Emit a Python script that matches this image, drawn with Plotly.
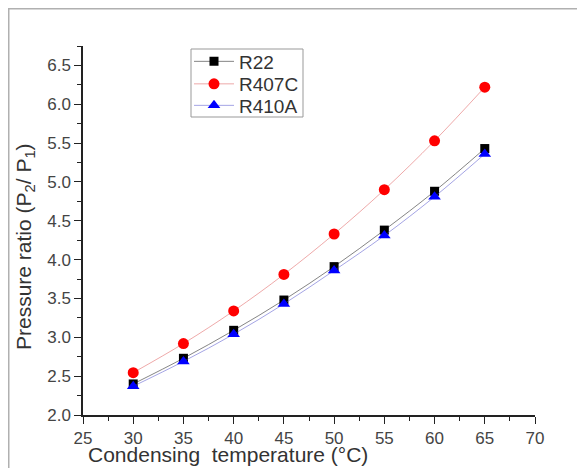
import plotly.graph_objects as go

temps = [30, 35, 40, 45, 50, 55, 60, 65]
r22 = [2.40, 2.73, 3.09, 3.48, 3.91, 4.38, 4.88, 5.43]
r407c = [2.545, 2.92, 3.34, 3.81, 4.33, 4.90, 5.53, 6.22]
r410a = [2.37, 2.69, 3.04, 3.43, 3.86, 4.31, 4.81, 5.36]

x_ticks = [25, 30, 35, 40, 45, 50, 55, 60, 65, 70]
y_ticks = [2.0, 2.5, 3.0, 3.5, 4.0, 4.5, 5.0, 5.5, 6.0, 6.5]

FONT = "Liberation Sans, Arial, sans-serif"

# figure geometry (figure pixels; page has an 8px body margin)
W, H = 577, 460
L, R, T, B = 75, 50, 38, 53
PW, PH = W - L - R, H - T - B


def px(xf):
    return (xf - L) / PW


def py(yf):
    return (H - B - yf) / PH


fig = go.Figure()
fig.add_trace(go.Scatter(
    x=temps, y=r22, name="R22", mode="lines+markers", legend="legend",
    line=dict(color="rgba(60,60,60,0.7)", width=0.9, shape="spline"),
    marker=dict(symbol="square", size=9, color="black"),
))
fig.add_trace(go.Scatter(
    x=temps, y=r407c, name="R407C", mode="lines+markers", legend="legend2",
    line=dict(color="rgba(220,80,80,0.55)", width=0.9, shape="spline"),
    marker=dict(symbol="circle", size=11, color="#ff0000"),
))
fig.add_trace(go.Scatter(
    x=temps, y=r410a, name="R410A", mode="lines+markers", legend="legend3",
    line=dict(color="rgba(70,70,200,0.55)", width=0.9, shape="spline"),
    marker=dict(symbol="triangle-up", size=11, color="#0000ff"),
))

axis_common = dict(
    showline=True, linecolor="#222", linewidth=1.5, mirror=False,
    ticks="outside", ticklen=7, tickwidth=1.3, tickcolor="#222",
    showgrid=False, zeroline=False,
    tickfont=dict(family=FONT, size=17, color="#444"),
)

fig.update_xaxes(
    range=[25, 70], tickvals=x_ticks, ticktext=[str(v) for v in x_ticks],
    minor=dict(ticks="outside", ticklen=4, tickwidth=1.3, tickcolor="#222", dtick=2.5, tick0=25),
    **axis_common,
)
fig.update_yaxes(
    range=[2.0, 6.75], tickvals=y_ticks, ticktext=[f"{v:.1f}" for v in y_ticks],
    minor=dict(ticks="outside", ticklen=4, tickwidth=1.3, tickcolor="#222", dtick=0.25, tick0=2.0),
    **axis_common,
)

leg_common = dict(
    xanchor="left", yanchor="middle", bgcolor="rgba(0,0,0,0)", borderwidth=0,
    font=dict(family=FONT, size=19, color="#333"), itemwidth=40,
)

fig.update_layout(
    width=W, height=H,
    margin=dict(l=L, r=R, t=T, b=B),
    plot_bgcolor="white", paper_bgcolor="white",
    showlegend=True,
    legend=dict(x=px(181), y=py(53.5), **leg_common),
    legend2=dict(x=px(181), y=py(76), **leg_common),
    legend3=dict(x=px(181), y=py(97.5), **leg_common),
    annotations=[
        dict(text="Condensing  temperature (°C)", xref="paper", yref="paper",
             x=px(220), y=py(446), xanchor="center", yanchor="middle", showarrow=False,
             font=dict(family=FONT, size=21, color="#333")),
        dict(text="Pressure ratio (P<sub>2</sub>/ P<sub>1</sub>)", xref="paper", yref="paper",
             x=px(17), y=py(239), xanchor="center", yanchor="middle", showarrow=False,
             textangle=-90, font=dict(family=FONT, size=21, color="#333")),
    ],
    shapes=[
        dict(type="rect", xref="paper", yref="paper",
             x0=px(183), x1=px(295), y0=py(109), y1=py(41),
             fillcolor="white", line=dict(color="#999", width=1), layer="above"),
        dict(type="line", xref="paper", yref="paper",
             x0=px(0), x1=px(W + 5), y0=py(0.75), y1=py(0.75),
             line=dict(color="#b0b0b0", width=1.5)),
        dict(type="line", xref="paper", yref="paper",
             x0=px(0.75), x1=px(0.75), y0=py(0.75), y1=py(H + 5),
             line=dict(color="#b0b0b0", width=1.5)),
    ],
)

fig.write_html("out.html")
